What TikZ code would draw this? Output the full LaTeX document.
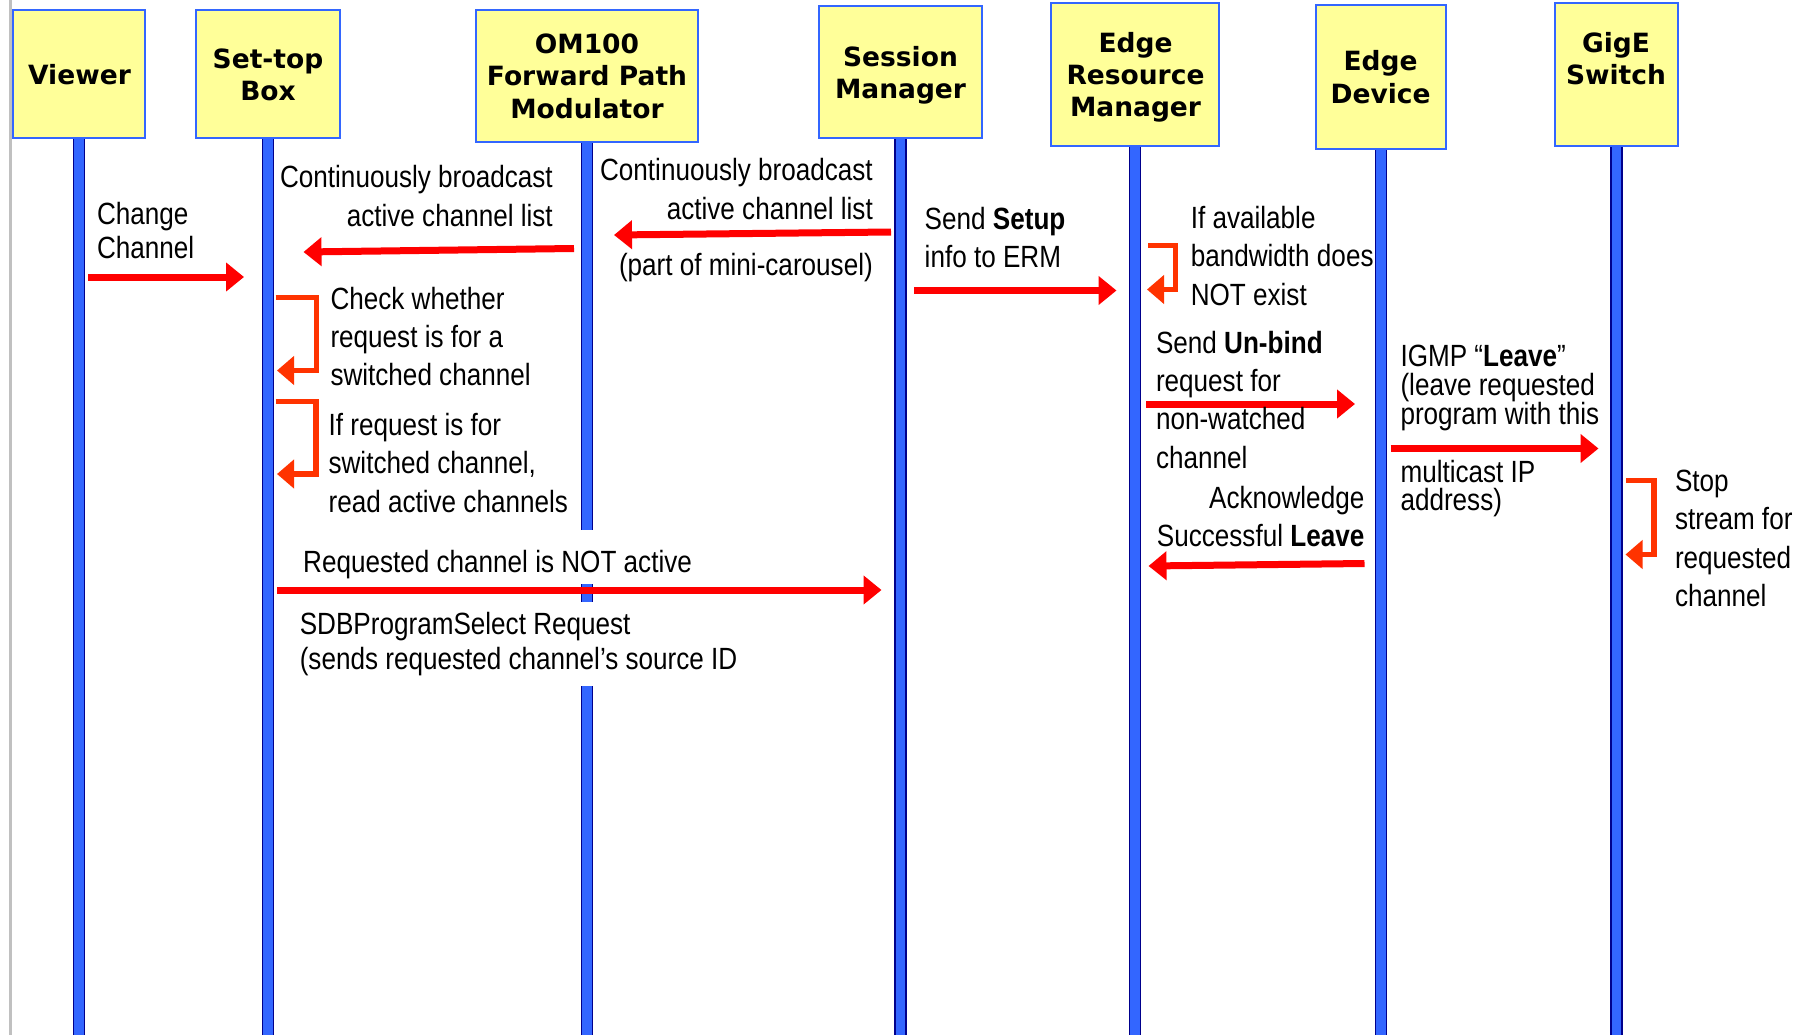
\documentclass[tikz,border=0pt]{standalone}
\usepackage{fontspec}
\usetikzlibrary{arrows.meta}

\newfontfamily\lblfont{Liberation Sans}[FakeStretch=0.85]
\newfontfamily\ttlfont{DejaVu Sans}

\definecolor{boxfill}{RGB}{255,255,153}
\definecolor{boxedge}{RGB}{51,102,255}
\definecolor{lifefill}{RGB}{51,102,255}
\definecolor{lifeedge}{RGB}{0,0,140}
\definecolor{msgred}{RGB}{255,0,0}
\definecolor{selfred}{RGB}{255,51,0}
\definecolor{pagegray}{RGB}{192,192,192}

\pgfdeclarelayer{lines}
\pgfsetlayers{lines,main}

% stacked lines with a fixed baseline distance; the box baseline is the first line
\newcommand\rowsL[2]{\vtop{\baselineskip=#1\lineskiplimit=-\maxdimen\halign{##\hfil\cr#2\crcr}}}
\newcommand\rowsR[2]{\vtop{\baselineskip=#1\lineskiplimit=-\maxdimen\halign{\hfil##\cr#2\crcr}}}
\newcommand\rowsC[2]{\vtop{\baselineskip=#1\lineskiplimit=-\maxdimen\halign{\hfil##\hfil\cr#2\crcr}}}

\tikzset{
  box/.style={draw=boxedge, line width=2.5pt, fill=boxfill, inner sep=0pt},
  title/.style={font=\ttlfont\bfseries\fontsize{26.5}{32}\selectfont, inner sep=0pt, anchor=base},
  lbl/.style={font=\lblfont\fontsize{30.7}{38.5}\selectfont, inner sep=0pt},
  life/.style={line width=1.6pt, draw=lifeedge, double=lifefill, double distance=9.5pt},
  msg/.style={draw=msgred, line width=7pt, -{Triangle[length=18pt,width=28pt]}},
  selfmsg/.style={draw=selfred, line width=5.5pt, line join=miter, -{Triangle[length=17pt,width=28pt]}},
}

\begin{document}
\begin{tikzpicture}[x=1pt, y=-1pt]
  \begin{pgfonlayer}{lines}
    \fill[white] (0,0) rectangle (1807,1035);
  \end{pgfonlayer}
  \useasboundingbox (0,0) rectangle (1807,1035);

  % page edge on the left
  \coordinate (pgtop) at (10.5,0);
  \coordinate (pgbot) at (10.5,1035);
  \draw[pagegray, line width=2.5pt] (pgtop) -- (pgbot);

  % participant boxes
  \node[box, minimum width=132pt, minimum height=128pt] (vw)  at (79,74)     {};
  \node[box, minimum width=144pt, minimum height=128pt] (stb) at (268,74)    {};
  \node[box, minimum width=222pt, minimum height=132pt] (om)  at (587,76)    {};
  \node[box, minimum width=163pt, minimum height=132pt] (sm)  at (900.5,72)  {};
  \node[box, minimum width=168pt, minimum height=143pt] (erm) at (1135,74.5) {};
  \node[box, minimum width=130pt, minimum height=144pt] (ed)  at (1381,77)   {};
  \node[box, minimum width=123pt, minimum height=143pt] (gs)  at (1616.5,74.5) {};

  \node[title] (vw-t)  at (79.5,85)    {\rowsC{32pt}{Viewer}};
  \node[title] (stb-t) at (268,69)     {\rowsC{31.7pt}{Set-top\cr Box}};
  \node[title] (om-t)  at (587,53.5)   {\rowsC{32.5pt}{OM100\cr Forward Path\cr Modulator}};
  \node[title] (sm-t)  at (900.5,66.7) {\rowsC{31.7pt}{Session\cr Manager}};
  \node[title] (erm-t) at (1135.5,52.7){\rowsC{32pt}{Edge\cr Resource\cr Manager}};
  \node[title] (ed-t)  at (1380.6,71)  {\rowsC{32.3pt}{Edge\cr Device}};
  \node[title] (gs-t)  at (1616,52.7)  {\rowsC{32.3pt}{GigE\cr Switch}};

  % lifelines, drawn behind the boxes
  \coordinate (bot) at (0,1035);
  \coordinate (omcut1) at (587,530);
  \coordinate (omcut2) at (587,584);
  \coordinate (omcut3) at (587,602);
  \coordinate (omcut4) at (587,686);
  \begin{pgfonlayer}{lines}
    \foreach \p in {vw,stb,sm,erm,ed,gs}
      \draw[life] (\p.center) -- (\p.center |- bot);
    \draw[life] (om.center) -- (omcut1);
    \draw[life] (omcut2) -- (omcut3);
    \draw[life] (omcut4) -- (om.center |- bot);
  \end{pgfonlayer}

  % message end points
  \coordinate (m1a) at (88,277);      \coordinate (m1b) at (244,277);
  \coordinate (m2a) at (574,248.5);   \coordinate (m2b) at (303.5,252);
  \coordinate (m3a) at (891,232);     \coordinate (m3b) at (614,235);
  \coordinate (m4a) at (914,290.5);   \coordinate (m4b) at (1116.5,290.5);
  \coordinate (m6a) at (1146,404);    \coordinate (m6b) at (1355,404);
  \coordinate (m7a) at (1364.5,563.5);\coordinate (m7b) at (1148.5,566);
  \coordinate (m8a) at (1390.5,448.5);\coordinate (m8b) at (1598.5,448.5);
  \coordinate (m12a) at (277,590);    \coordinate (m12b) at (881.5,590);

  \draw[msg] (m1a) -- (m1b);
  \draw[msg] (m2a) -- (m2b);
  \draw[msg] (m3a) -- (m3b);
  \draw[msg] (m4a) -- (m4b);
  \draw[msg] (m6a) -- (m6b);
  \draw[msg] (m7a) -- (m7b);
  \draw[msg] (m8a) -- (m8b);
  \draw[msg] (m12a) -- (m12b);

  % self messages
  \coordinate (s1a) at (275.5,297.5); \coordinate (s1b) at (316.3,370.5); \coordinate (s1c) at (277,370.5);
  \coordinate (s2a) at (275.5,401.5); \coordinate (s2b) at (316,474);     \coordinate (s2c) at (277,474);
  \coordinate (s3a) at (1148,245.5);  \coordinate (s3b) at (1175.5,289.5);\coordinate (s3c) at (1147,289.5);
  \coordinate (s4a) at (1626,480.5);  \coordinate (s4b) at (1654,554.5);  \coordinate (s4c) at (1625.5,554.5);

  \draw[selfmsg] (s1a) -| (s1b) -- (s1c);
  \draw[selfmsg] (s2a) -| (s2b) -- (s2c);
  \draw[selfmsg] (s3a) -| (s3b) -- (s3c);
  \draw[selfmsg] (s4a) -| (s4b) -- (s4c);

  % message texts
  \node[lbl, anchor=base west] (t1) at (96.8,225) {\rowsL{33.5pt}{Change\cr Channel}};
  \node[lbl, anchor=base east] (t2) at (553,188) {\rowsR{39pt}{Continuously broadcast\cr active channel list}};
  \node[lbl, anchor=base east] (t3) at (873,180.5) {\rowsR{39pt}{Continuously broadcast\cr active channel list}};
  \node[lbl, anchor=base east] (t3b) at (873,275) {(part of mini-carousel)};
  \node[lbl, anchor=base west] (t4) at (924.5,229.5) {\rowsL{37.5pt}{Send \textbf{Setup}\cr info to ERM}};
  \node[lbl, anchor=base west] (t5) at (1190.6,228.5) {\rowsL{38.5pt}{If available\cr bandwidth does\cr NOT exist}};
  \node[lbl, anchor=base west] (t6) at (1155.8,353.3) {\rowsL{38.3pt}{Send \textbf{Un-bind}\cr request for\cr non-watched\cr channel}};
  \node[lbl, anchor=base east] (t7) at (1364.5,508.3) {\rowsR{38.4pt}{Acknowledge\cr Successful \textbf{Leave}}};
  \node[lbl, anchor=base west] (t8) at (1400.3,366.7) {\rowsL{28.7pt}{IGMP “\textbf{Leave}”\cr (leave requested\cr program with this}};
  \node[lbl, anchor=base west] (t9) at (1400.3,482.3) {\rowsL{28.4pt}{multicast IP\cr address)}};
  \node[lbl, anchor=base west] (t10) at (1674.8,491.5) {\rowsL{38.4pt}{Stop\cr stream for\cr requested\cr channel}};
  \node[lbl, anchor=base west] (t11) at (330.3,309.4) {\rowsL{38pt}{Check whether\cr request is for a\cr switched channel}};
  \node[lbl, anchor=base west] (t12) at (328.4,435) {\rowsL{38.5pt}{If request is for\cr switched channel,\cr read active channels}};
  \node[lbl, anchor=base west] (t13) at (303,572.5) {Requested channel is NOT active};
  \node[lbl, anchor=base west] (t14) at (299.6,634) {\rowsL{35pt}{SDBProgramSelect Request\cr (sends requested channel’s source ID}};
\end{tikzpicture}
\end{document}
